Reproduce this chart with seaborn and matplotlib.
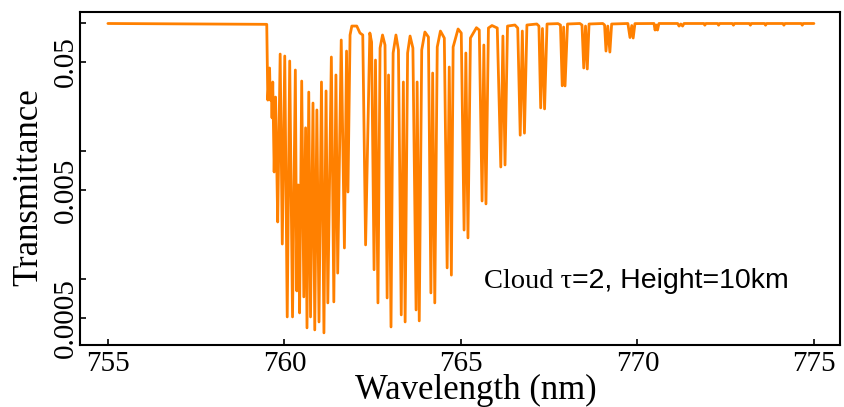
import matplotlib
matplotlib.use("Agg")
import matplotlib.pyplot as plt
from matplotlib.ticker import FixedLocator, FixedFormatter, NullLocator
import pandas as pd
import seaborn as sns

# O2 A-band transmittance spectrum (vertices of the plotted curve)
wavelength_nm = [
    755.00, 759.50, 759.53, 759.58, 759.60, 759.63, 759.65, 759.67, 759.71, 759.75,
    759.77, 759.81, 759.88, 759.94, 760.01, 760.08, 760.15, 760.23, 760.31, 760.35,
    760.39, 760.43, 760.49, 760.55, 760.60, 760.64, 760.69, 760.74, 760.81, 760.86,
    760.92, 760.98, 761.05, 761.12, 761.18, 761.23, 761.33, 761.40, 761.46, 761.51,
    761.61, 761.70, 761.76, 761.80, 761.86, 761.91, 762.05, 762.14, 762.22, 762.30,
    762.42, 762.47, 762.54, 762.58, 762.65, 762.71, 762.78, 762.85, 762.91, 762.95,
    763.02, 763.08, 763.16, 763.23, 763.31, 763.37, 763.42, 763.49, 763.56, 763.64,
    763.73, 763.76, 763.82, 763.89, 763.98, 764.08, 764.15, 764.20, 764.26, 764.33,
    764.42, 764.53, 764.61, 764.67, 764.73, 764.78, 764.92, 765.01, 765.09, 765.14,
    765.20, 765.27, 765.44, 765.52, 765.60, 765.65, 765.71, 765.78, 765.88, 766.03,
    766.13, 766.19, 766.25, 766.32, 766.53, 766.61, 766.68, 766.74, 766.80, 766.87,
    767.15, 767.21, 767.26, 767.31, 767.37, 767.44, 767.75, 767.82, 767.87, 767.91,
    767.95, 768.02, 768.37, 768.43, 768.48, 768.53, 768.58, 768.63, 769.02, 769.07,
    769.11, 769.16, 769.22, 769.27, 769.73, 769.79, 769.84, 769.88, 769.93, 770.47,
    770.50, 770.54, 770.57, 770.61, 771.14, 771.18, 771.23, 771.28, 771.32,
    771.88, 771.91, 771.94, 772.27, 772.30, 772.33, 772.69, 772.72, 772.75,
    773.17, 773.20, 773.23, 773.60, 773.63, 773.66, 774.12, 774.15, 774.18,
    774.64, 774.67, 774.70, 775.00,
]

transmittance = [
    0.100, 0.0985, 0.0252, 0.0449, 0.0252, 0.0331, 0.0183, 0.0349, 0.00691, 0.0266,
    0.0134, 0.00281, 0.0577, 0.00189, 0.0557, 0.000509, 0.0509, 0.000509, 0.0433, 0.000813,
    0.00547, 0.000547, 0.0355, 0.000730, 0.0153, 0.000418, 0.0291, 0.000509, 0.0239, 0.000403,
    0.0211, 0.000465, 0.0349, 0.000382, 0.0297, 0.000655, 0.0547, 0.000667, 0.0396, 0.00112,
    0.0743, 0.00176, 0.0609, 0.00482, 0.0813, 0.0955, 0.0955, 0.0843, 0.0813, 0.00186,
    0.0843, 0.0716, 0.00119, 0.0518, 0.000655, 0.0643, 0.0813, 0.0679, 0.000716, 0.0396,
    0.000425, 0.0588, 0.0813, 0.0621, 0.000528, 0.0349, 0.000465, 0.0588, 0.0798, 0.0643,
    0.000577, 0.0349, 0.000474, 0.0621, 0.0858, 0.0784, 0.000784, 0.0410, 0.000655, 0.0655,
    0.0873, 0.0770, 0.00123, 0.0457, 0.00108, 0.0655, 0.0906, 0.0843, 0.00243, 0.0588,
    0.00211, 0.0770, 0.0927, 0.0889, 0.00410, 0.0679, 0.00389, 0.0922, 0.0964, 0.0922,
    0.00756, 0.0798, 0.00784, 0.0955, 0.0973, 0.0922, 0.0134, 0.0873, 0.0139, 0.0973,
    0.0991, 0.0955, 0.0219, 0.0914, 0.0215, 0.0991, 0.0998, 0.0973, 0.0326, 0.0938,
    0.0325, 0.0991, 0.100, 0.0973, 0.0449, 0.0955, 0.0441, 0.0991, 0.100, 0.0973,
    0.0609, 0.0955, 0.0598, 0.0991, 0.100, 0.0777, 0.0964, 0.0770, 0.0998, 0.100,
    0.0889, 0.0973, 0.0889, 0.100, 0.100, 0.0955, 0.0991, 0.0955, 0.100,
    0.100, 0.0970, 0.100, 0.100, 0.0970, 0.100, 0.100, 0.0970, 0.100,
    0.100, 0.0970, 0.100, 0.100, 0.0970, 0.100, 0.100, 0.0970, 0.100,
    0.100, 0.0970, 0.100, 0.100,
]

x_ticks = [755, 760, 765, 770, 775]
y_ticks = [0.1, 0.05, 0.01, 0.005, 0.001, 0.0005]
y_tick_labels = ["", "0.05", "", "0.005", "", "0.0005"]

sns.set_style("ticks")
plt.rcParams["font.family"] = ["Liberation Serif", "DejaVu Serif"]
plt.rcParams["text.color"] = "black"
plt.rcParams["axes.labelcolor"] = "black"
plt.rcParams["xtick.color"] = "black"
plt.rcParams["ytick.color"] = "black"

df = pd.DataFrame({"Wavelength": wavelength_nm, "Transmittance": transmittance})

fig = plt.figure(figsize=(8.44, 4.07), dpi=100)
ax = fig.add_axes([0.0948, 0.1523, 0.9005, 0.8189])

sns.lineplot(data=df, x="Wavelength", y="Transmittance", sort=False,
             estimator=None, color="#ff8000", linewidth=2.0, ax=ax)

ax.set_yscale("log")
ax.set_xlim(754.21, 775.74)
ax.set_ylim(0.000307, 0.1236)

ax.xaxis.set_major_locator(FixedLocator(x_ticks))
ax.yaxis.set_major_locator(FixedLocator(y_ticks))
ax.yaxis.set_major_formatter(FixedFormatter(y_tick_labels))
ax.yaxis.set_minor_locator(NullLocator())
ax.xaxis.set_minor_locator(NullLocator())

ax.tick_params(axis="both", direction="in", length=4.5, width=1.2,
               labelsize=21, colors="black")
ax.tick_params(axis="x", pad=4)
ax.tick_params(axis="y", pad=1)
for lab in ax.get_yticklabels():
    lab.set_rotation(90)
    lab.set_verticalalignment("center")

for side in ["left", "right", "top", "bottom"]:
    ax.spines[side].set_visible(True)
    ax.spines[side].set_linewidth(1.5)
    ax.spines[side].set_color("black")

ax.set_xlabel("Wavelength (nm)", fontsize=25, color="black")
ax.set_ylabel("Transmittance", fontsize=25, color="black")
ax.xaxis.set_label_coords(0.521, -0.086)
ax.yaxis.set_label_coords(-0.046, 0.4725)

# annotation: serif part followed by sans-serif part on the same baseline
t1 = ax.text(0.5316, 0.171, "Cloud \u03c4", transform=ax.transAxes, color="black",
             fontsize=20.5, family="Liberation Serif", va="baseline", ha="left")
fig.canvas.draw()
bb = t1.get_window_extent(renderer=fig.canvas.get_renderer())
x_end = ax.transAxes.inverted().transform((bb.x1, bb.y0))[0]
ax.text(x_end, 0.171, "=2, Height=10km", transform=ax.transAxes, color="black",
        fontsize=20.5, family="Liberation Sans", va="baseline", ha="left")

fig.savefig("out.png", dpi=100)
